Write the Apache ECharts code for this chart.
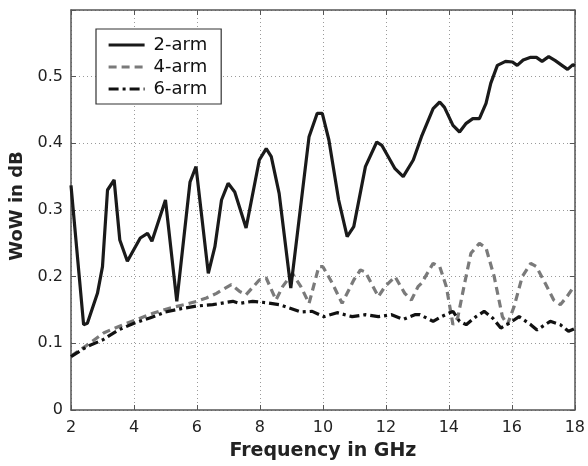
<!DOCTYPE html>
<html><head><meta charset="utf-8">
<script src="https://cdn.jsdelivr.net/npm/echarts@6/dist/echarts.min.js"></script>
<style>html,body{margin:0;padding:0;background:#fff}#c{width:588px;height:466px}</style>
</head><body><div id="c"></div>
<script>
const seriesNames = ['2-arm', '4-arm', '6-arm'];
const xTicks = [2, 4, 6, 8, 10, 12, 14, 16, 18];
const yTicks = [0, 0.1, 0.2, 0.3, 0.4, 0.5];

const freq2 = [2.0, 2.4, 2.52, 2.84, 3.0, 3.16, 3.37, 3.55, 3.79, 4.2, 4.43, 4.57, 5.0, 5.36, 5.78, 5.97, 6.36, 6.57, 6.78, 6.99, 7.2, 7.56, 7.98, 8.2, 8.36, 8.61, 8.98, 9.19, 9.56, 9.82, 9.98, 10.19, 10.5, 10.77, 10.98, 11.35, 11.71, 11.87, 12.29, 12.55, 12.87, 13.13, 13.5, 13.71, 13.86, 14.13, 14.34, 14.55, 14.76, 14.97, 15.18, 15.33, 15.54, 15.8, 16.02, 16.17, 16.36, 16.6, 16.78, 16.96, 17.17, 17.38, 17.59, 17.77, 17.94, 18.0];
const wow2 = [0.337, 0.128, 0.13, 0.175, 0.215, 0.33, 0.345, 0.255, 0.223, 0.258, 0.265, 0.253, 0.315, 0.163, 0.342, 0.365, 0.205, 0.245, 0.315, 0.34, 0.327, 0.273, 0.375, 0.392, 0.38, 0.325, 0.183, 0.265, 0.41, 0.445, 0.445, 0.405, 0.315, 0.26, 0.275, 0.365, 0.402, 0.397, 0.362, 0.35, 0.375, 0.41, 0.452, 0.462, 0.454, 0.427, 0.417, 0.43, 0.437, 0.437, 0.46, 0.49, 0.517, 0.523, 0.522, 0.517, 0.525, 0.529, 0.529, 0.523, 0.53, 0.524, 0.517, 0.511, 0.518, 0.516];

const freq4 = [2.0, 2.5, 3.05, 3.5, 4.1, 4.6, 5.15, 5.6, 5.99, 6.3, 6.62, 7.09, 7.35, 7.56, 7.98, 8.2, 8.51, 8.72, 9.03, 9.3, 9.56, 9.87, 10.0, 10.3, 10.61, 10.98, 11.19, 11.35, 11.76, 11.97, 12.29, 12.6, 12.81, 13.02, 13.13, 13.5, 13.71, 13.92, 14.13, 14.28, 14.5, 14.7, 14.97, 15.18, 15.44, 15.7, 15.86, 16.07, 16.33, 16.6, 16.78, 17.06, 17.33, 17.54, 17.75, 17.94, 18.0];
const wow4 = [0.081, 0.097, 0.116, 0.125, 0.136, 0.145, 0.153, 0.158, 0.163, 0.168, 0.175, 0.188, 0.178, 0.173, 0.195, 0.198, 0.165, 0.185, 0.205, 0.185, 0.16, 0.215, 0.215, 0.19, 0.16, 0.195, 0.21, 0.207, 0.17, 0.185, 0.2, 0.175, 0.165, 0.185, 0.19, 0.22, 0.215, 0.185, 0.128, 0.138, 0.19, 0.235, 0.25, 0.243, 0.2, 0.14, 0.128, 0.155, 0.2, 0.22, 0.215, 0.19, 0.165, 0.158, 0.17, 0.183, 0.185];

const freq6 = [2.0, 2.5, 3.0, 3.5, 4.0, 4.5, 5.0, 5.5, 6.0, 6.5, 7.14, 7.35, 7.77, 8.2, 8.61, 8.93, 9.3, 9.66, 10.03, 10.45, 10.93, 11.35, 11.76, 12.18, 12.55, 12.92, 13.08, 13.5, 13.76, 14.13, 14.34, 14.55, 14.86, 15.12, 15.39, 15.65, 15.91, 16.23, 16.6, 16.8, 17.22, 17.54, 17.8, 18.0];
const wow6 = [0.08, 0.095, 0.105, 0.12, 0.13, 0.138, 0.147, 0.152, 0.156, 0.158, 0.163, 0.16, 0.163, 0.161, 0.158, 0.153, 0.147, 0.148, 0.14, 0.146, 0.14, 0.143, 0.14, 0.143, 0.136, 0.143, 0.143, 0.133, 0.14, 0.148, 0.133, 0.128, 0.14, 0.148, 0.138, 0.123, 0.13, 0.14, 0.128, 0.12, 0.133, 0.128, 0.118, 0.122];

const zip = (xs, ys) => xs.map((x, i) => [x, ys[i]]);
const font = '"DejaVu Sans", Arial, sans-serif';
const chart = echarts.init(document.getElementById('c'));
const gridLine = {show: true, lineStyle: {color: '#9a9a9a', type: [1, 3], width: 1}};
const frame = {show: true, onZero: false, lineStyle: {color: '#555', width: 1.5}};
const tick = {show: true, inside: true, length: 5, lineStyle: {color: '#555'}};
chart.setOption({
  backgroundColor: '#fff',
  animation: false,
  grid: {left: 70, right: 11, top: 10, bottom: 55, containLabel: false},
  legend: {
    data: seriesNames, orient: 'vertical', left: 96, top: 29,
    itemWidth: 36, itemHeight: 14, itemGap: 4,
    backgroundColor: '#fff', borderColor: '#333', borderWidth: 1.2,
    padding: [7, 14, 6, 11],
    itemStyle: {opacity: 0},
    lineStyle: {width: 3.2},
    textStyle: {fontFamily: font, fontSize: 18, color: '#111', padding: [0, 0, 0, 4]}
  },
  xAxis: [{
    type: 'value', min: 2, max: 18, interval: 2, position: 'bottom',
    name: 'Frequency in GHz', nameLocation: 'middle', nameGap: 32,
    nameTextStyle: {fontFamily: font, fontSize: 19, fontWeight: 'bold', color: '#222'},
    axisLine: frame, axisTick: tick, splitLine: gridLine,
    axisLabel: {fontFamily: font, fontSize: 16, color: '#222', margin: 10}
  }, {
    type: 'value', min: 2, max: 18, interval: 2, position: 'top',
    axisLine: frame, axisTick: tick, splitLine: {show: false}, axisLabel: {show: false}
  }],
  yAxis: [{
    type: 'value', min: 0, max: 0.6, interval: 0.1, position: 'left',
    name: 'WoW in dB', nameLocation: 'middle', nameGap: 45, nameRotate: 90,
    nameTextStyle: {fontFamily: font, fontSize: 18, fontWeight: 'bold', color: '#222', padding: [0, 0, 0, 8]},
    axisLine: frame, axisTick: tick, splitLine: gridLine,
    axisLabel: {fontFamily: font, fontSize: 16, color: '#222', margin: 8,
      formatter: v => yTicks.some(t => Math.abs(t - v) < 1e-9) ? String(+v.toFixed(1)) : ''}
  }, {
    type: 'value', min: 0, max: 0.6, interval: 0.1, position: 'right',
    axisLine: frame, axisTick: tick, splitLine: {show: false}, axisLabel: {show: false}
  }],
  series: [
    {name: seriesNames[0], type: 'line', data: zip(freq2, wow2), showSymbol: false, symbol: 'none',
     lineStyle: {color: '#1a1a1a', width: 3.2}, itemStyle: {color: '#1a1a1a'}, z: 3},
    {name: seriesNames[1], type: 'line', data: zip(freq4, wow4), showSymbol: false, symbol: 'none',
     lineStyle: {color: '#7a7a7a', width: 3.2, type: [8, 5]}, itemStyle: {color: '#7a7a7a'}, z: 2},
    {name: seriesNames[2], type: 'line', data: zip(freq6, wow6), showSymbol: false, symbol: 'none',
     lineStyle: {color: '#111', width: 3.2, type: [10, 4, 3, 4]}, itemStyle: {color: '#111'}, z: 2}
  ]
});
</script></body></html>
